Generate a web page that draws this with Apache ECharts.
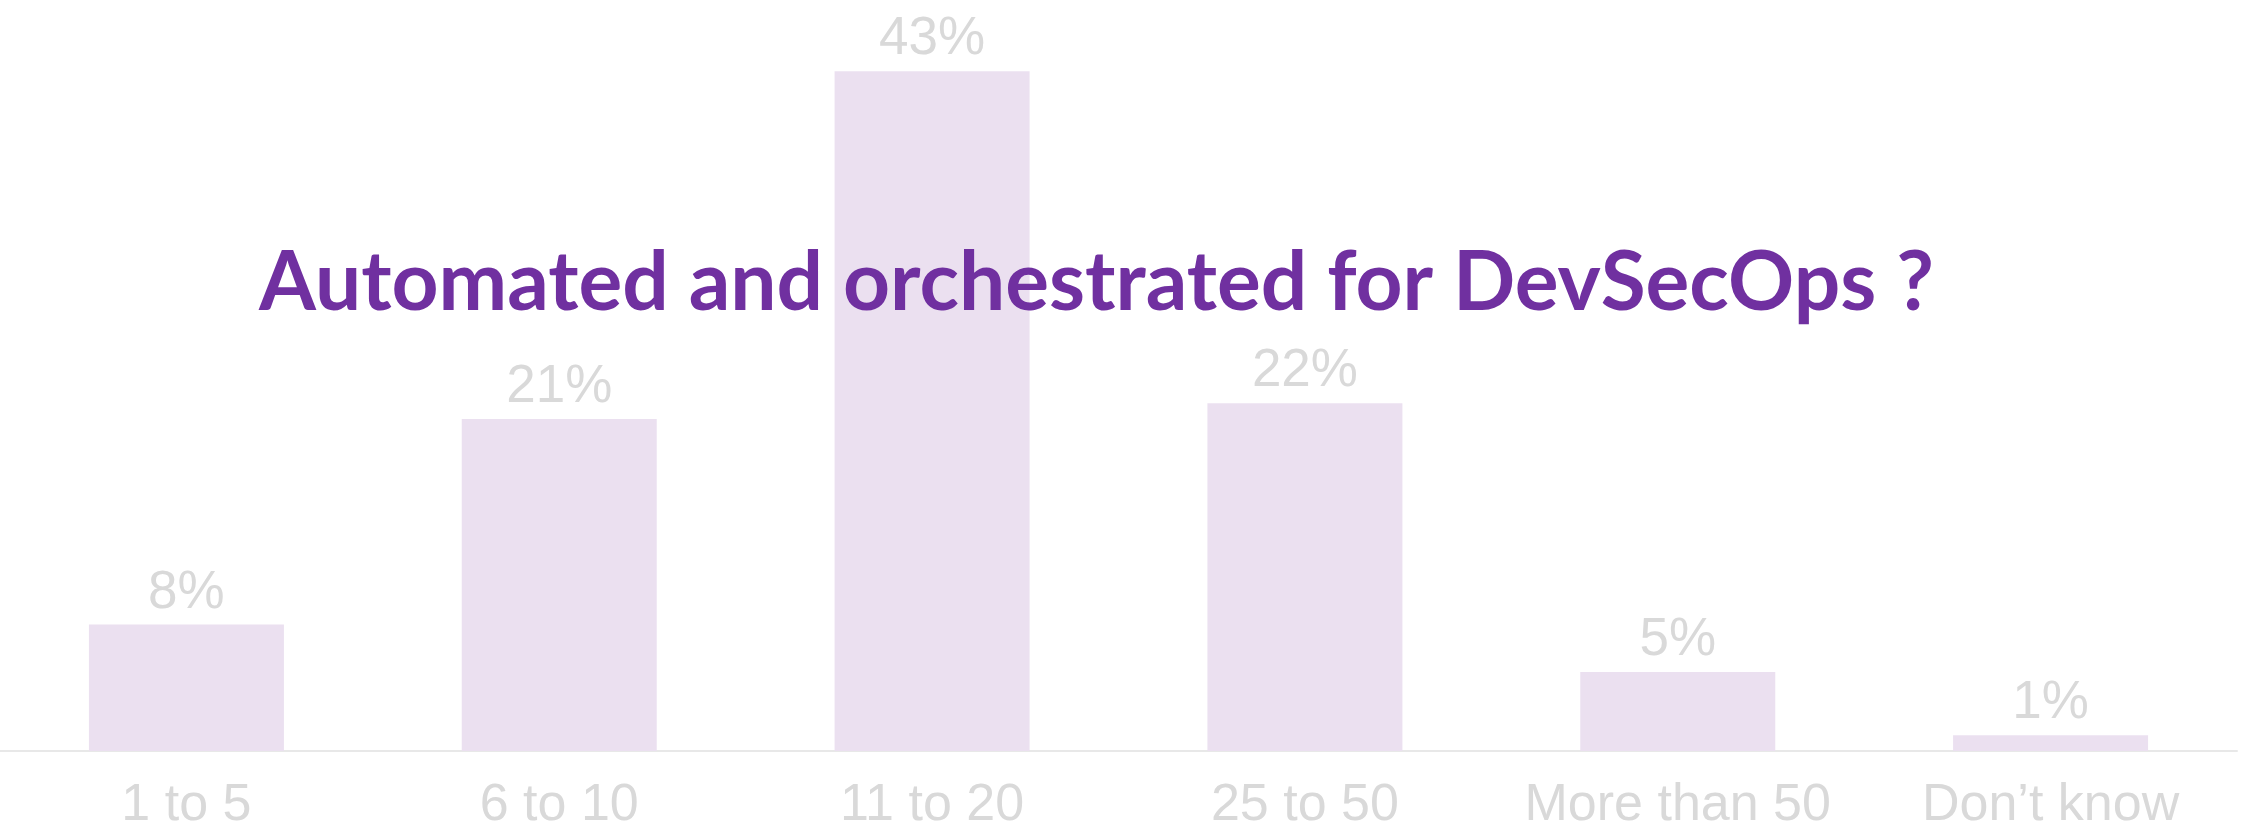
<!DOCTYPE html>
<html>
<head>
<meta charset="utf-8">
<script src="https://cdn.jsdelivr.net/npm/echarts@6/dist/echarts.min.js"></script>
<style>
html,body{margin:0;padding:0;background:#fff;}
#chart{width:2262px;height:826px;}
</style>
</head>
<body>
<div id="chart"></div>
<script>
const categories = ['1 to 5', '6 to 10', '11 to 20', '25 to 50', 'More than 50', 'Don\u2019t know'];
const values = [8, 21, 43, 22, 5, 1];
const titleText = 'Automated and orchestrated for DevSecOps ?';

const chart = echarts.init(document.getElementById('chart'), null, {renderer: 'canvas'});
chart.setOption({
  animation: false,
  backgroundColor: '#ffffff',
  title: {
    text: titleText,
    left: 254,
    top: 238,
    z: 10,
    textStyle: {
      fontFamily: 'Lato',
      fontWeight: 'bold',
      fontSize: 82,
      color: '#7030a0'
    }
  },
  grid: {left: 0, right: 25, top: 8, bottom: 75, containLabel: false, outerBoundsMode: 'none'},
  xAxis: {
    type: 'category',
    data: categories,
    axisLine: {show: true, lineStyle: {color: '#e8e8e8', width: 2}},
    axisTick: {show: false},
    axisLabel: {
      color: '#d9d9d9',
      fontFamily: '"Liberation Sans", Arial, sans-serif',
      fontSize: 52,
      margin: 29,
      interval: 0
    }
  },
  yAxis: {
    type: 'value',
    min: 0,
    max: 47,
    show: false,
    splitLine: {show: false}
  },
  series: [{
    type: 'bar',
    data: values,
    barWidth: 195,
    z: 1,
    itemStyle: {color: '#ebe0f0'},
    label: {
      show: true,
      position: 'top',
      distance: 5,
      formatter: '{c}%',
      color: '#d9d9d9',
      fontFamily: '"Liberation Sans", Arial, sans-serif',
      fontSize: 53
    }
  }]
});
</script>
</body>
</html>
